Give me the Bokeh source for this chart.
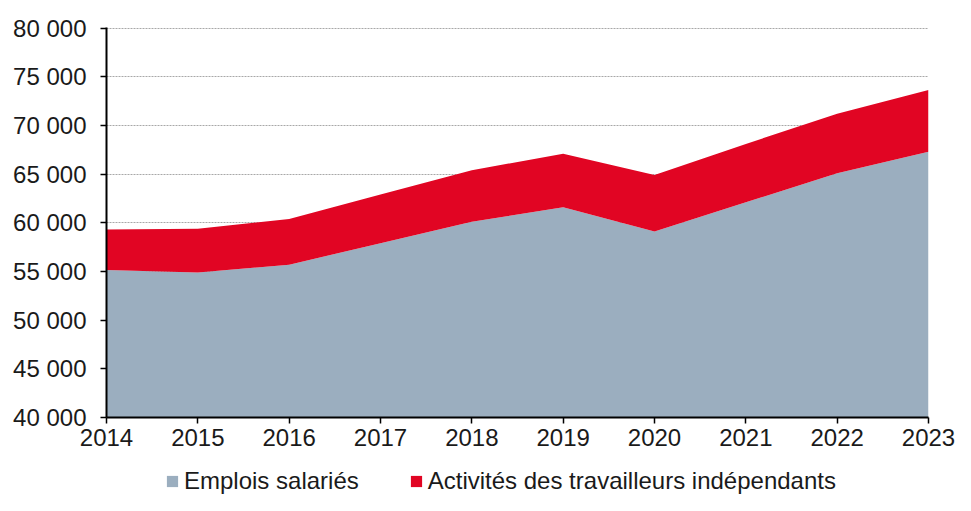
from bokeh.plotting import figure
from bokeh.models import ColumnDataSource, Range1d, FixedTicker, Legend, LegendItem
from bokeh.layouts import column
from bokeh.embed import file_html
from bokeh.resources import INLINE

years = [2014, 2015, 2016, 2017, 2018, 2019, 2020, 2021, 2022, 2023]
emplois_salaries = [55150, 54900, 55700, 57900, 60100, 61600, 59100, 62100, 65100, 67300]
activites_independants = [4150, 4500, 4700, 5000, 5300, 5500, 5800, 6000, 6100, 6350]
series_names = ["Emplois salariés", "Activités des travailleurs indépendants"]
series_colors = ["#9BAEBF", "#E10523"]
y_ticks = [40000, 45000, 50000, 55000, 60000, 65000, 70000, 75000, 80000]
y_tick_labels = ["40 000", "45 000", "50 000", "55 000", "60 000", "65 000", "70 000", "75 000", "80 000"]

FONT = "Liberation Sans"
TXT = "#1a1a1a"
FS = "24px"

source = ColumnDataSource(dict(year=years, sal=emplois_salaries, ind=activites_independants))

p = figure(width=955, height=455, output_backend="svg", toolbar_location=None,
           x_range=Range1d(years[0], years[-1]), y_range=Range1d(y_ticks[0], y_ticks[-1] + 60),
           min_border_left=106, min_border_right=27, min_border_top=27, min_border_bottom=38)
p.outline_line_color = None

rs = p.varea_stack(["sal", "ind"], x="year", source=source, color=series_colors)

p.xaxis.ticker = FixedTicker(ticks=years)
p.yaxis.ticker = FixedTicker(ticks=y_ticks)
p.yaxis.major_label_overrides = {t: l for t, l in zip(y_ticks, y_tick_labels)}

for ax in (p.xaxis, p.yaxis):
    ax.axis_line_color = "black"
    ax.axis_line_width = 2
    ax.major_tick_line_color = "black"
    ax.major_tick_line_width = 1.5
    ax.major_tick_in = 0
    ax.major_tick_out = 6
    ax.minor_tick_line_color = None
    ax.major_label_text_font = FONT
    ax.major_label_text_font_size = FS
    ax.major_label_text_color = TXT
p.yaxis.major_label_standoff = 14
p.xaxis.major_label_standoff = 5

p.xgrid.grid_line_color = None
p.ygrid.grid_line_color = "#a8a8a8"
p.ygrid.grid_line_dash = "2 1"
p.ygrid.grid_line_width = 1

# legend strip below the chart (its swatch renderers lie outside its visible range)
pl = figure(width=955, height=40, output_backend="svg", toolbar_location=None,
            x_range=Range1d(years[0], years[-1]), y_range=Range1d(-2, -1),
            x_axis_type=None, y_axis_type=None, min_border=0)
pl.outline_line_color = None
pl.xgrid.visible = False
pl.ygrid.visible = False
swatches = pl.varea_stack(["sal", "ind"], x="year", source=source, color=series_colors)

legend = Legend(items=[LegendItem(label=series_names[i], renderers=[swatches[i]]) for i in range(2)],
                location=(59, 0), orientation="horizontal")
legend.glyph_width = 14
legend.glyph_height = 14
legend.padding = 0
legend.margin = 0
legend.spacing = 50
legend.label_standoff = 5
legend.label_text_font = FONT
legend.label_text_font_size = FS
legend.label_text_color = TXT
legend.border_line_color = None
legend.background_fill_alpha = 0
pl.add_layout(legend, "center")

layout = column(p, pl, spacing=0)
open("out.html", "w").write(file_html(layout, INLINE))
